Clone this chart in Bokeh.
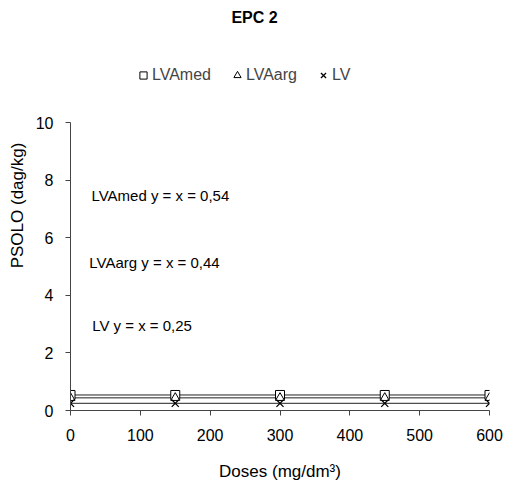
from bokeh.plotting import figure
from bokeh.models import Label, Legend, LegendItem, Range1d
from bokeh.embed import file_html
from bokeh.resources import INLINE

doses = [0, 150, 300, 450, 600]
lvamed = [0.54, 0.54, 0.54, 0.54, 0.54]
lvaarg = [0.44, 0.44, 0.44, 0.44, 0.44]
lv = [0.25, 0.25, 0.25, 0.25, 0.25]
series_names = ["LVAmed", "LVAarg", "LV"]
eq_texts = ["LVAmed  y = x = 0,54", "LVAarg  y = x = 0,44", "LV  y = x = 0,25"]
x_ticks = [0, 100, 200, 300, 400, 500, 600]
y_ticks = [0, 2, 4, 6, 8, 10]

FONT = "Liberation Sans"

# frame covers the whole upper area; axis bounds limit the visible axis to 0..10
p = figure(width=508, height=483, output_backend="svg", toolbar_location=None,
           x_range=Range1d(0, 600), y_range=Range1d(0, 14.26),
           min_border_left=70, min_border_top=0, min_border_right=19, min_border_bottom=71)
p.outline_line_color = None
p.grid.visible = False

for ax in (p.xaxis[0], p.yaxis[0]):
    ax.axis_line_color = "#444444"
    ax.major_tick_line_color = "#444444"
    ax.major_tick_out = 5
    ax.major_tick_in = 0
    ax.minor_tick_line_color = None
    ax.major_label_text_font = FONT
    ax.major_label_text_font_size = "16px"
    ax.major_label_text_color = "black"
    ax.axis_label_text_font = FONT
    ax.axis_label_text_font_size = "17px"
    ax.axis_label_text_font_style = "normal"
    ax.axis_label_text_color = "black"

p.xaxis.ticker = x_ticks
p.yaxis.ticker = y_ticks
p.yaxis.bounds = (0, 10)
p.xaxis.axis_label = "Doses (mg/dm³)"
p.yaxis.axis_label = "PSOLO (dag/kg)"
p.xaxis.major_label_standoff = 13
p.xaxis.axis_label_standoff = 18
p.yaxis.major_label_standoff = 12
p.yaxis.axis_label_standoff = 6

p.line(doses, lvamed, line_color="#222222", line_width=1)
p.line(doses, lvaarg, line_color="#222222", line_width=1)
p.line(doses, lv, line_color="#222222", line_width=1)
r1 = p.scatter(doses, lvamed, marker="square", size=9, line_color="black", fill_color="white", line_width=1)
r2 = p.scatter(doses, lvaarg, marker="triangle", size=9, line_color="black", fill_color="white", line_width=1)
r3 = p.scatter(doses, lv, marker="x", size=10, line_color="black", line_width=1.3)

legend = Legend(items=[LegendItem(label=series_names[0], renderers=[r1]),
                       LegendItem(label=series_names[1], renderers=[r2]),
                       LegendItem(label=series_names[2], renderers=[r3])],
                orientation="horizontal", location=(64, 326),
                label_text_font=FONT, label_text_font_size="16px",
                glyph_width=18, glyph_height=18, label_standoff=0, spacing=17,
                padding=2, margin=0, border_line_color=None, background_fill_alpha=0)
p.add_layout(legend, "center")

p.add_layout(Label(x=263.5, y=13.67, text="EPC 2", text_font=FONT, text_font_size="16px",
                   text_font_style="bold", text_align="center", text_baseline="middle",
                   text_color="black"))

pos = [(30, 7.47), (27, 5.16), (31, 2.94)]
for (tx, ty), t in zip(pos, eq_texts):
    p.add_layout(Label(x=tx, y=ty, text=t, text_font=FONT, text_font_size="15px",
                       text_baseline="middle", text_color="black"))

open("out.html", "w").write(file_html(p, INLINE))
